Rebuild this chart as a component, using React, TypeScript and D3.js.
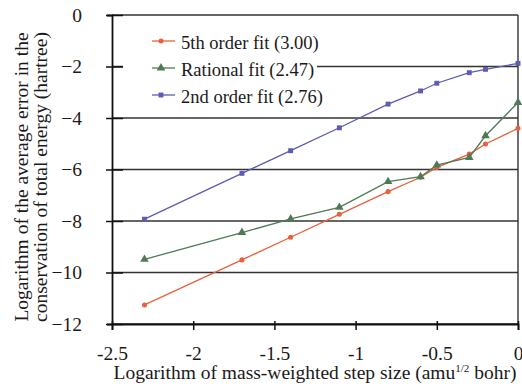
import React, { useEffect, useRef } from 'react';
import * as d3 from 'd3';

const stepSizes = [-2.3, -1.7, -1.4, -1.1, -0.8, -0.6, -0.5, -0.3, -0.2, 0];
const fifthOrder = [-11.26, -9.51, -8.63, -7.74, -6.86, -6.3, -5.92, -5.4, -5.01, -4.4];
const rationalFit = [-9.49, -8.45, -7.92, -7.47, -6.47, -6.28, -5.83, -5.53, -4.69, -3.4];
const secondOrder = [-7.93, -6.15, -5.27, -4.38, -3.46, -2.95, -2.65, -2.24, -2.11, -1.88];

const seriesNames = ['5th order fit (3.00)', 'Rational fit (2.47)', '2nd order fit (2.76)'];
const xTicks = [-2.5, -2, -1.5, -1, -0.5, 0];
const yTicks = [0, -2, -4, -6, -8, -10, -12];

const App = () => {
  const svgRef = useRef<SVGSVGElement>(null);

  useEffect(() => {
    const svg = d3.select(svgRef.current);
    svg.selectAll('*').remove();

    const left = 112, right = 518, top = 15, bottom = 324;
    const font = '"Liberation Serif", "Times New Roman", serif';
    const fs = '19.5px';
    const x = d3.scaleLinear().domain([-2.5, 0]).range([left, right]);
    const y = d3.scaleLinear().domain([-12, 0]).range([bottom, top]);

    svg.append('rect').attr('width', 522).attr('height', 384).attr('fill', '#fff');

    // gridlines
    svg.append('g')
      .selectAll('line')
      .data(yTicks)
      .join('line')
      .attr('x1', left).attr('x2', right)
      .attr('y1', d => y(d)).attr('y2', d => y(d))
      .attr('stroke', '#333').attr('stroke-width', 1.6);

    // border on right
    svg.append('line')
      .attr('x1', right).attr('x2', right).attr('y1', top).attr('y2', bottom)
      .attr('stroke', '#333').attr('stroke-width', 1.4);

    // axes
    const yAxis = svg.append('g')
      .attr('transform', `translate(${left},0)`)
      .call(d3.axisLeft(y).tickValues(yTicks).tickSize(5).tickPadding(25).tickFormat(d3.format('d')));
    yAxis.select('.domain').attr('stroke', '#111').attr('stroke-width', 1.8);
    yAxis.selectAll('.tick line').attr('x2', -6).attr('x1', 11).attr('stroke', '#111').attr('stroke-width', 1.5);
    yAxis.selectAll('text').style('font-family', font).style('font-size', fs).attr('fill', '#1a1a1a');

    const xAxis = svg.append('g')
      .attr('transform', `translate(0,${bottom})`)
      .call(d3.axisBottom(x).tickValues(xTicks).tickSize(6).tickPadding(16).tickFormat(d => `${d}`));
    xAxis.select('.domain').attr('stroke', '#111').attr('stroke-width', 1.8);
    xAxis.selectAll('.tick line').attr('y1', -3).attr('stroke', '#111').attr('stroke-width', 1.5);
    xAxis.selectAll('text').style('font-family', font).style('font-size', fs).attr('fill', '#1a1a1a');

    // legend background (covers the -2 gridline)
    svg.append('rect')
      .attr('x', 123).attr('y', 26).attr('width', 194).attr('height', 82)
      .attr('fill', '#fff');

    const series = [
      { name: seriesNames[0], values: fifthOrder, color: '#e8603c', symbol: d3.symbolCircle, size: 20 },
      { name: seriesNames[1], values: rationalFit, color: '#4e7a56', symbol: d3.symbolTriangle, size: 32 },
      { name: seriesNames[2], values: secondOrder, color: '#5c5cb2', symbol: d3.symbolSquare, size: 24 },
    ];

    const line = d3.line<number>()
      .x((_, i) => x(stepSizes[i]))
      .y(d => y(d));

    series.forEach((s, k) => {
      svg.append('path')
        .datum(s.values)
        .attr('fill', 'none')
        .attr('stroke', s.color)
        .attr('stroke-width', 1.3)
        .attr('d', line);

      svg.append('g')
        .selectAll('path')
        .data(s.values)
        .join('path')
        .attr('transform', (d, i) => `translate(${x(stepSizes[i])},${y(d)})`)
        .attr('d', d3.symbol().type(s.symbol).size(s.size)())
        .attr('fill', s.color);

      // legend entry
      const ly = 41 + k * 27;
      svg.append('line')
        .attr('x1', 152).attr('x2', 175).attr('y1', ly).attr('y2', ly)
        .attr('stroke', s.color).attr('stroke-width', 1.3);
      svg.append('path')
        .attr('transform', `translate(161,${ly})`)
        .attr('d', d3.symbol().type(s.symbol).size(s.size)())
        .attr('fill', s.color);
      svg.append('text')
        .attr('x', 181).attr('y', ly + 2)
        .attr('dy', '0.35em')
        .style('font-family', font).style('font-size', '18.5px')
        .attr('fill', '#1a1a1a')
        .text(s.name);
    });

    // axis titles
    const yTitle = svg.append('text')
      .attr('transform', 'translate(21,177) rotate(-90)')
      .attr('text-anchor', 'middle')
      .style('font-family', font).style('font-size', fs)
      .attr('fill', '#1a1a1a');
    yTitle.append('tspan').attr('x', 0).attr('dy', '0.35em').text('Logarithm of the average error in the');
    yTitle.append('tspan').attr('x', 0).attr('dy', '1.0em').text('conservation of total energy (hartree)');

    const xTitle = svg.append('text')
      .attr('x', 315).attr('y', 379)
      .attr('text-anchor', 'middle')
      .style('font-family', font).style('font-size', '19.5px')
      .attr('fill', '#1a1a1a');
    xTitle.append('tspan').text('Logarithm of mass-weighted step size (amu');
    xTitle.append('tspan').attr('dy', -7).style('font-size', '11px').text('1/2');
    xTitle.append('tspan').attr('dy', 7).text(' bohr)');
  }, []);

  return (
    <svg
      ref={svgRef}
      width={522}
      height={384}
      style={{ position: 'absolute', left: 0, top: 0, display: 'block' }}
    />
  );
};

export default App;
